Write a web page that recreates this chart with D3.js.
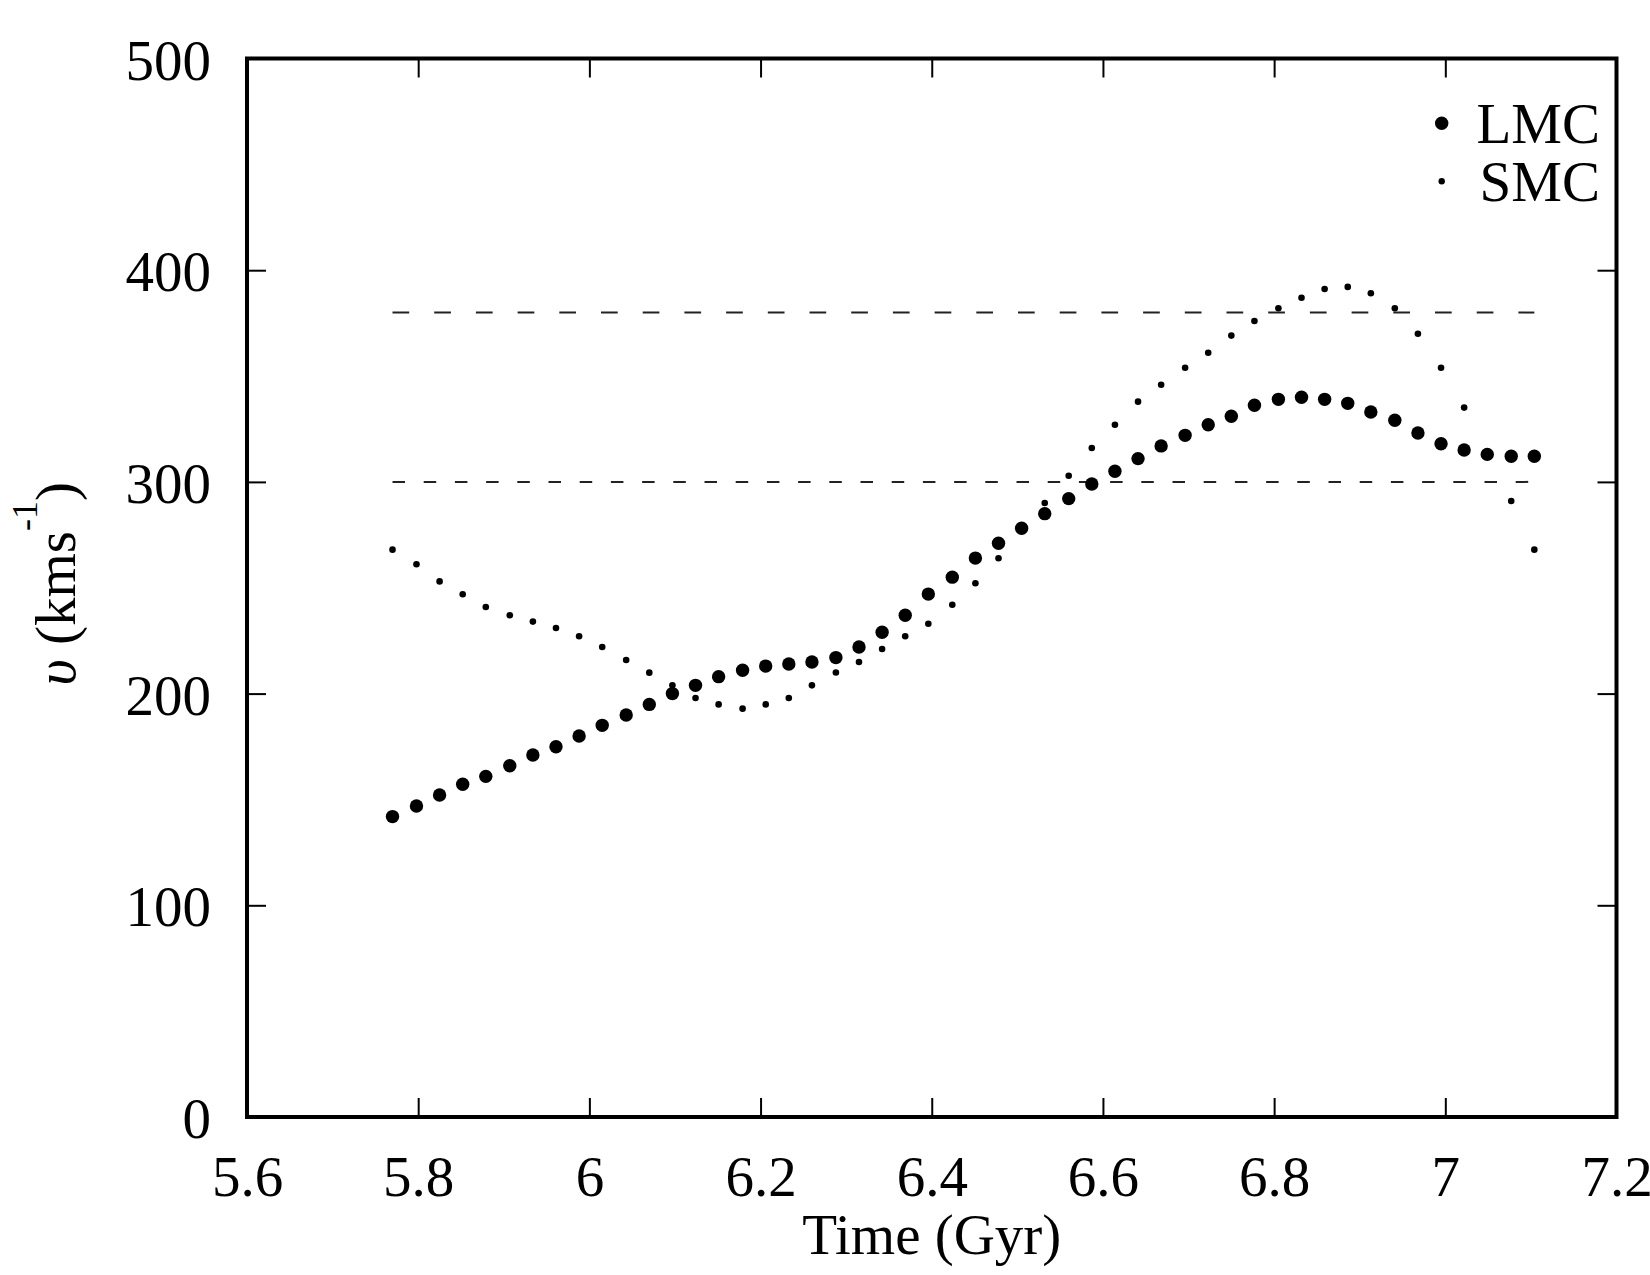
<!DOCTYPE html>
<html>
<head>
<meta charset="utf-8">
<script src="https://cdn.jsdelivr.net/npm/d3@7"></script>
<style>
  html, body { margin: 0; padding: 0; background: #fff; }
  svg { display: block; }
  text { font-family: "Liberation Serif", "Times New Roman", serif; fill: #000; }
</style>
</head>
<body>
<div id="chart"></div>
<script>
// Time (Gyr) of each output, shared by both clouds
const time = [
  5.770, 5.798, 5.825, 5.852, 5.879, 5.907, 5.934, 5.961, 5.988, 6.015,
  6.043, 6.070, 6.097, 6.124, 6.151, 6.179, 6.206, 6.233, 6.260, 6.288,
  6.315, 6.342, 6.369, 6.396, 6.424, 6.451, 6.478, 6.505, 6.532, 6.560,
  6.587, 6.614, 6.641, 6.668, 6.696, 6.723, 6.750, 6.777, 6.805, 6.832,
  6.859, 6.886, 6.913, 6.941, 6.968, 6.995, 7.022, 7.049, 7.077, 7.104
];

// velocities, km/s
const lmc = [
  141.9, 146.9, 152.1, 157.2, 160.9, 165.9, 171.0, 174.9, 180.0, 185.0,
  189.9, 194.9, 200.0, 203.9, 208.0, 211.0, 213.0, 214.0, 214.9, 217.0,
  222.0, 229.0, 237.0, 247.0, 255.0, 264.0, 271.0, 278.1, 285.0, 292.1,
  299.0, 305.0, 311.0, 317.0, 322.0, 327.0, 331.0, 336.2, 339.0, 340.0,
  339.0, 337.1, 333.0, 329.1, 323.1, 318.0, 315.1, 313.0, 312.1, 312.1
];
const smc = [
  268.0, 261.1, 253.0, 246.9, 240.9, 237.0, 234.0, 231.0, 227.1, 222.0,
  215.9, 209.9, 203.9, 197.9, 194.9, 192.9, 194.9, 197.9, 203.9, 210.0,
  214.9, 221.1, 227.1, 233.0, 242.0, 252.1, 263.9, 277.0, 290.0, 302.9,
  316.0, 327.0, 337.9, 345.9, 353.9, 361.0, 369.1, 376.0, 382.0, 387.0,
  391.1, 392.1, 389.1, 382.0, 370.0, 353.9, 335.1, 313.0, 291.0, 268.0
];

// horizontal reference velocities
const refLevels = [380, 300];

const xTicks = [5.6, 5.8, 6.0, 6.2, 6.4, 6.6, 6.8, 7.0, 7.2];
const yTicks = [0, 100, 200, 300, 400, 500];
const seriesNames = ['LMC', 'SMC'];

const width = 1650;
const height = 1275;
const margin = { top: 58.5, right: 33.5, bottom: 158, left: 247 };
const fontSize = 57;
const tickLen = 19;

const svg = d3.select('#chart').append('svg')
  .attr('width', width)
  .attr('height', height)
  .attr('viewBox', `0 0 ${width} ${height}`);

const x = d3.scaleLinear()
  .domain([5.6, 7.2])
  .range([margin.left, width - margin.right]);

const y = d3.scaleLinear()
  .domain([0, 500])
  .range([height - margin.bottom, margin.top]);

const fmt = d => String(+d.toFixed(1));

// dashed reference lines, spanning the simulated time range
const dashes = ['16.7,25', '12.5,18.7'];
svg.append('g')
  .selectAll('line')
  .data(refLevels)
  .join('line')
  .attr('x1', x(time[0]))
  .attr('x2', x(time[time.length - 1]))
  .attr('y1', d => y(d))
  .attr('y2', d => y(d))
  .attr('stroke', '#222')
  .attr('stroke-width', 2)
  .attr('stroke-dasharray', (d, i) => dashes[i]);

// axes: ticks inward on all four sides, labels only bottom and left
const styleAxis = g => {
  g.select('.domain').remove();
  g.selectAll('.tick line').attr('stroke', '#000').attr('stroke-width', 2);
  g.selectAll('.tick text')
    .attr('font-size', fontSize)
    .attr('font-family', '"Liberation Serif", "Times New Roman", serif')
    .attr('fill', '#000');
};

svg.append('g')
  .attr('transform', `translate(0, ${y(0)})`)
  .call(d3.axisBottom(x).tickValues(xTicks).tickFormat(fmt)
    .tickSizeInner(-tickLen).tickSizeOuter(0).tickPadding(39))
  .call(styleAxis);

svg.append('g')
  .attr('transform', `translate(0, ${y(500)})`)
  .call(d3.axisTop(x).tickValues(xTicks).tickFormat('')
    .tickSizeInner(-tickLen).tickSizeOuter(0))
  .call(styleAxis);

svg.append('g')
  .attr('transform', `translate(${x(5.6)}, 0)`)
  .call(d3.axisLeft(y).tickValues(yTicks).tickFormat(d3.format('d'))
    .tickSizeInner(-tickLen).tickSizeOuter(0).tickPadding(36))
  .call(styleAxis)
  .call(g => g.selectAll('.tick text').attr('dy', '0.36em'));

svg.append('g')
  .attr('transform', `translate(${x(7.2)}, 0)`)
  .call(d3.axisRight(y).tickValues(yTicks).tickFormat('')
    .tickSizeInner(-tickLen).tickSizeOuter(0))
  .call(styleAxis);

// frame
svg.append('rect')
  .attr('x', x(5.6))
  .attr('y', y(500))
  .attr('width', x(7.2) - x(5.6))
  .attr('height', y(0) - y(500))
  .attr('fill', 'none')
  .attr('stroke', '#000')
  .attr('stroke-width', 4);

// points
const smcData = time.map((t, i) => ({ t, v: smc[i] }));
const lmcData = time.map((t, i) => ({ t, v: lmc[i] }));

svg.append('g')
  .selectAll('circle')
  .data(smcData)
  .join('circle')
  .attr('cx', d => x(d.t))
  .attr('cy', d => y(d.v))
  .attr('r', 3.3)
  .attr('fill', '#000');

svg.append('g')
  .selectAll('circle')
  .data(lmcData)
  .join('circle')
  .attr('cx', d => x(d.t))
  .attr('cy', d => y(d.v))
  .attr('r', 6.7)
  .attr('fill', '#000');

// legend
const legend = svg.append('g');
const legendR = [6.7, 3.2];
seriesNames.forEach((name, i) => {
  const cy = 123.3 + i * 58;
  legend.append('circle')
    .attr('cx', 1441.7)
    .attr('cy', cy)
    .attr('r', legendR[i])
    .attr('fill', '#000');
  legend.append('text')
    .attr('x', 1600)
    .attr('y', cy + 20)
    .attr('text-anchor', 'end')
    .attr('font-size', fontSize)
    .text(name);
});

// axis titles
svg.append('text')
  .attr('x', (x(5.6) + x(7.2)) / 2)
  .attr('y', 1254)
  .attr('text-anchor', 'middle')
  .attr('font-size', fontSize)
  .text('Time (Gyr)');

const ylab = svg.append('text')
  .attr('transform', `translate(75, ${(y(0) + y(500)) / 2 - 4}) rotate(-90)`)
  .attr('text-anchor', 'middle')
  .attr('font-size', fontSize);
ylab.append('tspan').attr('font-style', 'italic').text('υ');
ylab.append('tspan').text(' (kms');
ylab.append('tspan').attr('font-size', 36).attr('dy', -38).text('-1');
ylab.append('tspan').attr('dy', 38).text(')');
</script>
</body>
</html>
